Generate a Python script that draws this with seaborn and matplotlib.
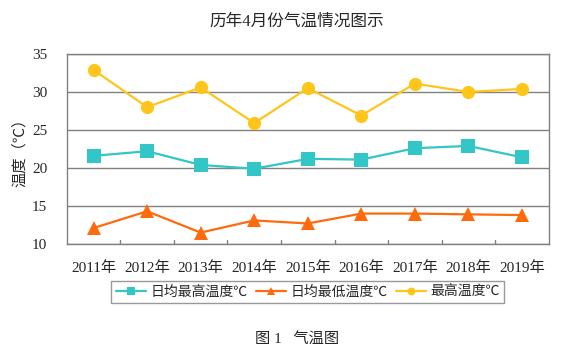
import pandas as pd
import seaborn as sb
import matplotlib.pyplot as plt

years = ['2011年', '2012年', '2013年', '2014年', '2015年', '2016年', '2017年', '2018年', '2019年']
avg_high = [21.6, 22.2, 20.4, 19.9, 21.2, 21.1, 22.6, 22.9, 21.4]
avg_low = [12.1, 14.3, 11.5, 13.1, 12.7, 14.0, 14.0, 13.9, 13.8]
max_temp = [32.9, 28.0, 30.6, 25.9, 30.5, 26.9, 31.1, 30.0, 30.4]
series = ['日均最高温度℃', '日均最低温度℃', '最高温度℃']

df = pd.DataFrame({'year': years, series[0]: avg_high, series[1]: avg_low, series[2]: max_temp})
long = df.melt(id_vars='year', var_name='kind', value_name='temp')

sb.set_style('white')
plt.rcParams['font.family'] = ['Liberation Serif', 'Noto Sans CJK SC']

fig = plt.figure(figsize=(5.71, 3.62), dpi=100)
ax = fig.add_axes([0.117, 0.326, 0.844, 0.525])

colors = {series[0]: '#33C6C6', series[1]: '#FF6A0D', series[2]: '#FFC51A'}
markers = {series[0]: 's', series[1]: '^', series[2]: 'o'}
sb.lineplot(data=long, x='year', y='temp', hue='kind', style='kind',
            palette=colors, markers=markers, dashes=False, markersize=9.5,
            markeredgewidth=0, linewidth=1.6, sort=False, ax=ax)

ax.set_ylim(10, 35)
ax.set_yticks([10, 15, 20, 25, 30, 35])
ax.set_xlim(-0.5, len(years) - 0.5)
ax.set_xticks(range(len(years)))
ax.set_xticklabels(years, fontsize=11)
ax.tick_params(axis='y', labelsize=11, length=0, pad=14)
ax.tick_params(axis='x', length=0, pad=12)
for x in range(1, len(years)):
    ax.plot([x - 0.5, x - 0.5], [10, 10.5], color='#808080', lw=1, zorder=1)
ax.yaxis.grid(True, color='#808080', lw=1)
for s in ax.spines.values():
    s.set_color('#808080')
    s.set_linewidth(1)
ax.set_xlabel('')
ax.set_ylabel('温度（℃）', fontsize=11, labelpad=4)

ax.legend(loc='upper center', bbox_to_anchor=(0.5, -0.16), ncol=3, frameon=True,
          fancybox=False, edgecolor='#808080', fontsize=10, handlelength=2.2,
          handletextpad=0.3, columnspacing=0.6, borderpad=0.3, markerscale=0.6)

fig.text(0.52, 0.94, '历年4月份气温情况图示', ha='center', va='center', fontsize=12)
fig.text(0.52, 0.065, '图 1   气温图', ha='center', va='center', fontsize=11)

plt.savefig('out.png', dpi=100)
